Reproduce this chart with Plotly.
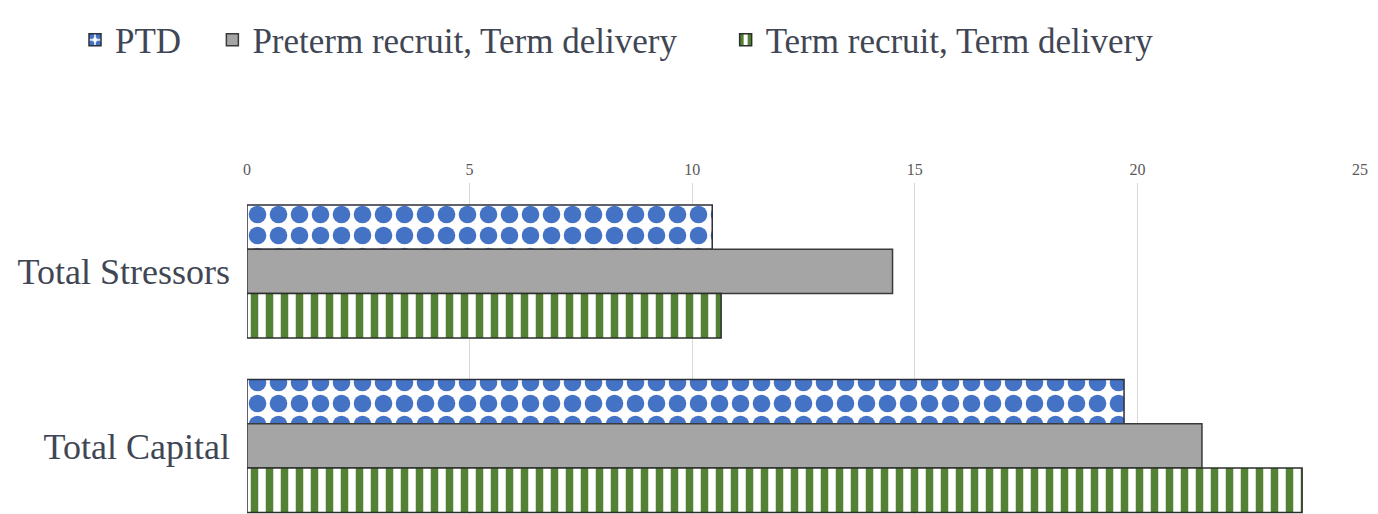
import plotly.graph_objects as go

categories = ["Total Stressors", "Total Capital"]
series_names = ["PTD", "Preterm recruit, Term delivery", "Term recruit, Term delivery"]
ptd = [10.45, 19.7]
preterm_term = [14.5, 21.45]
term_term = [10.65, 23.7]
x_ticks = [0, 5, 10, 15, 20, 25]

W, H = 1370, 506
ML, MR, MT, MB = 239, 18, 175, 0
ML_SCREEN_FIX = 8

fig = go.Figure()
fig.add_trace(go.Bar(
    y=categories, x=ptd, orientation="h", name=series_names[0] + "&nbsp;" * 3,
    marker=dict(color="#4472C4", line=dict(color="#2b2f3a", width=1.5),
                pattern=dict(shape=".", fgcolor="#4472C4", bgcolor="#FFFFFF",
                             size=21, solidity=0.55, fillmode="replace")),
))
fig.add_trace(go.Bar(
    y=categories, x=preterm_term, orientation="h", name=series_names[1] + "&nbsp;" * 5,
    marker=dict(color="#A5A5A5", line=dict(color="#3a3a3a", width=1.5)),
))
fig.add_trace(go.Bar(
    y=categories, x=term_term, orientation="h", name=series_names[2],
    marker=dict(color="#548235", line=dict(color="#2b2f2a", width=1.5),
                pattern=dict(shape="|", fgcolor="#548235", bgcolor="#FFFFFF",
                             size=15, solidity=0.5, fillmode="replace")),
))

plot_h = H - MT - MB
fig.update_layout(
    width=W, height=H,
    margin=dict(l=ML, r=MR, t=MT, b=MB, pad=0, autoexpand=False),
    paper_bgcolor="white", plot_bgcolor="white",
    barmode="group", bargap=0.238, bargroupgap=0,
    font=dict(family="Liberation Serif", color="#404654"),
    legend=dict(
        orientation="h", x=(67 - ML) / (W - ML - MR), xanchor="left",
        y=1 + (MT - 32) / plot_h, yanchor="middle",
        font=dict(family="Liberation Serif", size=35, color="#404654"),
        traceorder="normal", itemwidth=30, bgcolor="rgba(0,0,0,0)",
    ),
    xaxis=dict(
        side="top", range=[0, 25], tickvals=x_ticks,
        ticktext=[str(v) for v in x_ticks],
        showgrid=True, gridcolor="#D9D9D9", gridwidth=1,
        zeroline=False, showline=False, ticks="", automargin=False,
        tickfont=dict(family="Liberation Serif", size=16, color="#595959"),
        ticklabelstandoff=4,
    ),
    yaxis=dict(
        type="category", categoryorder="array", categoryarray=categories,
        range=[1.39, -0.507], showgrid=False, zeroline=False, showline=False,
        ticks="", ticklabelstandoff=16, automargin=False,
        tickfont=dict(family="Liberation Serif", size=36, color="#404654"),
    ),
    showlegend=True,
)

fig.write_html("out.html")
